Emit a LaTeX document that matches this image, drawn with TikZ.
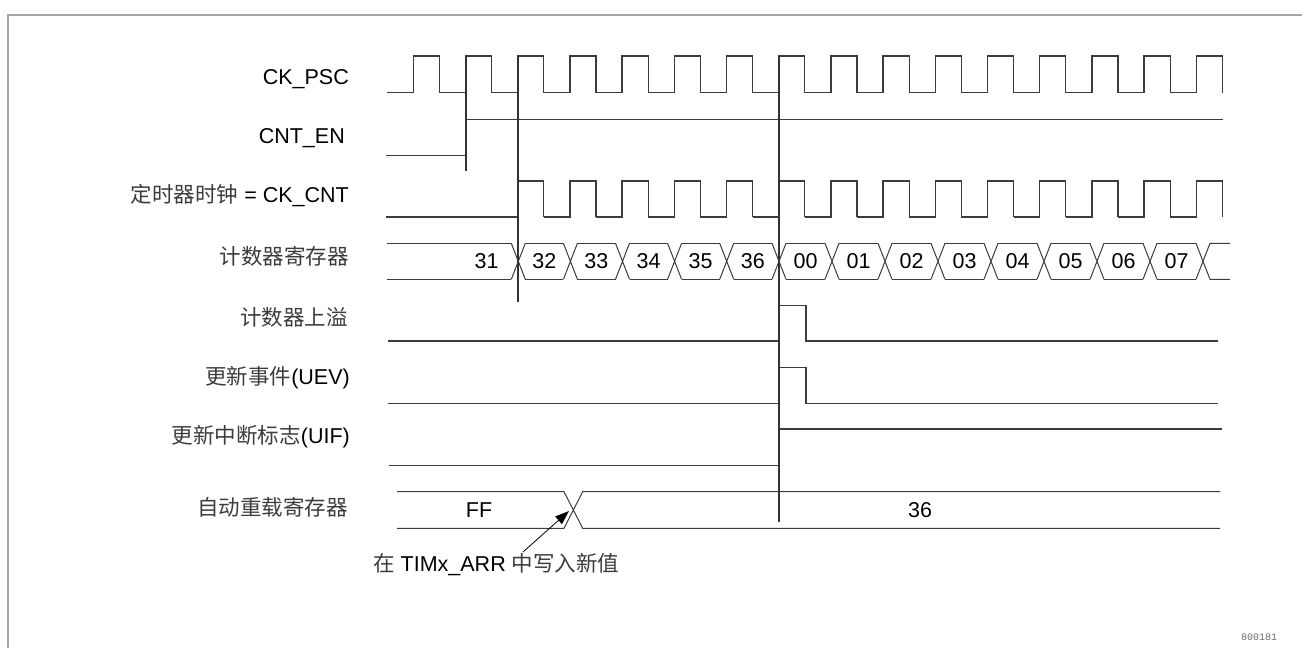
\documentclass[tikz,border=0pt]{standalone}
\usepackage{fontspec}
\setmainfont{Liberation Sans}
\setmonofont{Liberation Mono}
\newfontfamily\cjk{Noto Sans CJK SC}
\usetikzlibrary{arrows.meta}
\definecolor{wavegray}{RGB}{60,60,60}
\definecolor{framegray}{RGB}{165,165,165}
\definecolor{cjkgray}{RGB}{60,60,60}
\definecolor{codegray}{RGB}{110,110,110}

\begin{document}
\begin{tikzpicture}[x=1pt, y=-1pt,
  wave/.style={line width=1.3pt, wavegray},
  reg/.style={line width=1pt, wavegray},
  marker/.style={line width=1.1pt, black!80},
  lbl/.style={anchor=base east, inner sep=0pt, font=\fontsize{21.5}{25}\selectfont},
  val/.style={anchor=base, inner sep=0pt, font=\fontsize{21.5}{25}\selectfont}]
  \useasboundingbox (0,0) rectangle (1302,648);
  % Frame
  \draw[framegray, line width=2pt] (8,648) -- (8,14.5) -- (1302,14.5);
  % Signal names
  \node[lbl] (nPSC) at (349,84) {CK\_PSC};
  \node[lbl] (nEN)  at (345,143.5) {CNT\_EN};
  \node[lbl] (nCNT) at (349,202) {{\cjk\color{cjkgray}定时器时钟} = CK\_CNT};
  \node[lbl] (nREG) at (349,264) {\cjk\color{cjkgray}计数器寄存器};
  \node[lbl] (nOVF) at (348,325) {\cjk\color{cjkgray}计数器上溢};
  \node[lbl] (nUEV) at (350,384.5) {{\cjk\color{cjkgray}更新事件}(UEV)};
  \node[lbl] (nUIF) at (350,443.5) {{\cjk\color{cjkgray}更新中断标志}(UIF)};
  \node[lbl] (nARR) at (348,515) {\cjk\color{cjkgray}自动重载寄存器};
  % CK_PSC
  \foreach \k in {0,...,15} {
    \pgfmathsetmacro\r{413.3+52.2*\k}
    \draw[wave] (\r-26.1,92.7) -- (\r,92.7) -- (\r,56) -- (\r+26.1,56) -- (\r+26.1,92.7);
  }
  % CNT_EN
  \draw[wave] (386,155.3) -- (466,155.3) -- (466,119.3) -- (1222.5,119.3);
  % CK_CNT
  \draw[wave] (386,217) -- (517.7,217);
  \foreach \k in {2,...,15} {
    \pgfmathsetmacro\r{413.3+52.2*\k}
    \draw[wave] (\r-26.1,217) -- (\r,217) -- (\r,181) -- (\r+26.1,181) -- (\r+26.1,217);
  }
  % Counter register
  \draw[reg] (386.7,243.3) -- (511.3,243.3) (386.7,279.3) -- (511.3,279.3);
  \node[val] (cnt31) at (486.7,268.5) {31};
  \foreach \a/\b/\v in {518.3/570.4/32, 570.4/622.5/33, 622.5/674.6/34,
      674.6/726.7/35, 726.7/779/36, 779/832/00, 832/885/01, 885/938/02,
      938/991/03, 991/1044/04, 1044/1097/05, 1097/1150/06, 1150/1203/07} {
    \draw[reg] (\a-7,243.3) -- (\a+7,279.3) (\a-7,279.3) -- (\a+7,243.3);
    \draw[reg] (\a+7,243.3) -- (\b-7,243.3) (\a+7,279.3) -- (\b-7,279.3);
    \node[val] (cnt\v) at ({(\a+\b)/2},268.5) {\v};
  }
  \draw[reg] (1196,243.3) -- (1210,279.3) -- (1230,279.3)
             (1196,279.3) -- (1210,243.3) -- (1230,243.3);
  % Counter overflow
  \draw[wave] (388,341) -- (779,341) -- (779,305.7) -- (806,305.7) -- (806,341) -- (1218,341);
  % UEV
  \draw[wave] (388,403.3) -- (779,403.3) -- (779,367.7) -- (806,367.7) -- (806,403.3) -- (1218,403.3);
  % UIF
  \draw[wave] (389,465.7) -- (779,465.7) -- (779,429) -- (1222,429);
  % Auto-reload register
  \draw[reg] (397,491.7) -- (564,491.7) -- (582.7,528.3) -- (1220,528.3)
             (397,528.3) -- (564,528.3) -- (582.7,491.7) -- (1220,491.7);
  \node[val] (arrFF) at (479,517) {FF};
  \node[val] (arr36) at (920,517) {36};
  % Marker lines
  \draw[marker] (466,56) -- (466,170.7);
  \draw[marker] (518,56) -- (518,301.7);
  \draw[marker] (779,56) -- (779,521.7);
  % Write note
  \node[anchor=base west, inner sep=0pt, font=\fontsize{21.5}{25}\selectfont] (note) at (373,571.5)
    {{\cjk\color{cjkgray}在} TIMx\_ARR {\cjk\color{cjkgray}中写入新值}};
  \coordinate (wrfoot) at (523,552);
  \coordinate (wrtip) at (569,511);
  \draw[line width=0.8pt, -{Triangle[length=14pt, width=10pt]}] (wrfoot) -- (wrtip);
  % Figure code
  \node[inner sep=0pt, codegray, font=\ttfamily\fontsize{10}{12}\selectfont] (figcode) at (1259,637) {800181};
\end{tikzpicture}
\end{document}
